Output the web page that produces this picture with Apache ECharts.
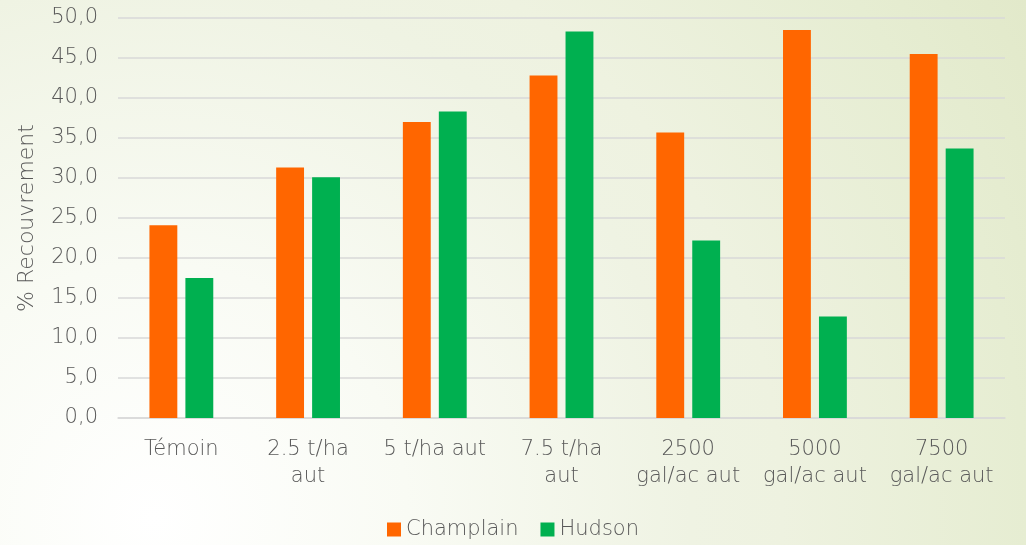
<!DOCTYPE html>
<html>
<head>
<meta charset="utf-8">
<script src="https://cdn.jsdelivr.net/npm/echarts@6/dist/echarts.min.js"></script>
<style>
    html, body { margin: 0; padding: 0; }
    #chart { width: 1026px; height: 545px; }
</style>
</head>
<body>
<div id="chart"></div>
<script>
var categories = ['Témoin', '2.5 t/ha\naut', '5 t/ha aut', '7.5 t/ha\naut', '2500\ngal/ac aut', '5000\ngal/ac aut', '7500\ngal/ac aut'];
var champlain = [24.1, 31.3, 37.0, 42.8, 35.7, 48.5, 45.5];
var hudson = [17.5, 30.1, 38.3, 48.3, 22.2, 12.7, 33.7];
var yTicks = { min: 0, max: 50, interval: 5 };

var font = '"DejaVu Sans", sans-serif';
var txt = '#595959';
var fw = 200;

var myChart = echarts.init(document.getElementById('chart'));
var option = {
    // fond : dégradé radial blanc en bas à gauche vers vert pâle en haut à droite
    backgroundColor: {
        type: 'radial', x: 0.15, y: 0.95, r: 1.86,
        colorStops: [
            { offset: 0, color: '#ffffff' },
            { offset: 0.25, color: '#f9fbf4' },
            { offset: 0.53, color: '#eff3e3' },
            { offset: 0.62, color: '#eef2e0' },
            { offset: 0.86, color: '#e6edd2' },
            { offset: 1, color: '#e2e9ca' }
        ]
    },
    textStyle: { fontFamily: font, fontWeight: fw },
    grid: { left: 118, right: 21, top: 18, bottom: 127 },
    legend: {
        bottom: 0,
        itemWidth: 14,
        itemHeight: 14,
        itemGap: 22,
        icon: 'rect',
        textStyle: { fontSize: 21, color: txt, fontFamily: font, fontWeight: fw },
        data: ['Champlain', 'Hudson']
    },
    xAxis: {
        type: 'category',
        data: categories,
        axisLine: { lineStyle: { color: '#d9d9d9', width: 1.5 } },
        axisTick: { show: false },
        axisLabel: { fontSize: 21, color: txt, fontWeight: fw, lineHeight: 27, margin: 18, interval: 0 }
    },
    yAxis: {
        type: 'value',
        min: yTicks.min,
        max: yTicks.max,
        interval: yTicks.interval,
        name: '% Recouvrement',
        nameLocation: 'middle',
        nameGap: 80,
        nameTextStyle: { fontSize: 22, color: txt, fontWeight: fw },
        axisLine: { show: false },
        axisTick: { show: false },
        splitLine: { lineStyle: { color: '#d9d9d9', width: 1.5 } },
        axisLabel: {
            fontSize: 21, color: txt, fontWeight: fw, margin: 20,
            formatter: function (v) { return v.toFixed(1).replace('.', ','); }
        }
    },
    series: [
        {
            name: 'Champlain',
            type: 'bar',
            data: champlain,
            barWidth: '22%',
            barGap: '29%',
            itemStyle: { color: '#ff6600' }
        },
        {
            name: 'Hudson',
            type: 'bar',
            data: hudson,
            barWidth: '22%',
            itemStyle: { color: '#00b050' }
        }
    ]
};
myChart.setOption(option);
</script>
</body>
</html>
